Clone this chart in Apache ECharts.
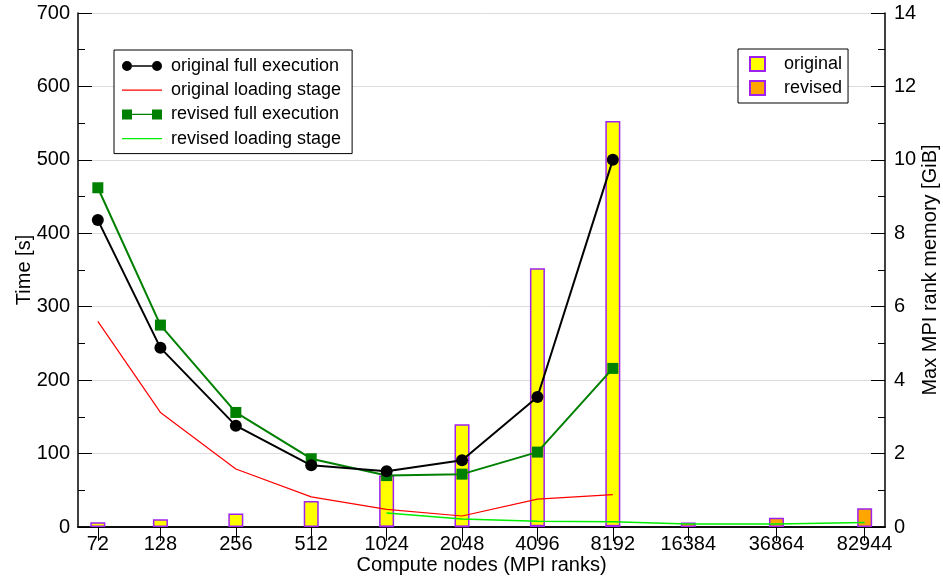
<!DOCTYPE html>
<html>
<head>
<meta charset="utf-8">
<script src="https://cdn.jsdelivr.net/npm/echarts@6/dist/echarts.min.js"></script>
<style>
  html, body { margin: 0; padding: 0; background: #fff; }
  #chart { width: 943px; height: 578px; }
</style>
</head>
<body>
<div id="chart"></div>
<script>
// compute nodes (MPI ranks), log2 spaced on the x axis
var ranks = [72, 128, 256, 512, 1024, 2048, 4096, 8192, 16384, 36864, 82944]
// time [s]
var origFull = [418, 244, 138, 84, 76, 91, 177, 500, null, null, null]
var origLoad = [280, 156, 79, 41, 24, 15, 38, 44, null, null, null]
var revFull = [462, 275, 156, 93, 70, 72, 102, 216, null, null, null]
var revLoad = [null, null, null, null, 19, 11, 8, 7, 4, 4, 6]
// max MPI rank memory [GiB]
var memOrig = [0.13, 0.21, 0.37, 0.71, 1.40, 2.80, 7.05, 11.06, null, null, null]
var memRev = [null, null, null, null, 0.03, 0.03, 0.06, 0.06, 0.12, 0.25, 0.51]

var FONT = 'Liberation Sans'
var xMin = Math.log2(60)
var xMax = Math.log2(100000)
var xTicks = ranks.map(function (r) { return Math.log2(r) })

function pairs(vals) {
  return ranks.map(function (r, i) { return [Math.log2(r), vals[i]] })
}
function rankLabel(v) {
  for (var i = 0; i < ranks.length; i++) {
    if (Math.abs(xTicks[i] - v) < 1e-6) return String(ranks[i])
  }
  return ''
}

var circleIcon = 'path://M0,5A5,5,0,1,1,10,5A5,5,0,1,1,0,5ZM10,4.3L30,4.3L30,5.7L10,5.7ZM30,5A5,5,0,1,1,40,5A5,5,0,1,1,30,5Z'
var squareIcon = 'path://M0,0L10,0L10,10L0,10ZM10,4.3L30,4.3L30,5.7L10,5.7ZM30,0L40,0L40,10L30,10Z'
var lineIcon = 'path://M0,0L40,0L40,1.2L0,1.2Z'

var chart = echarts.init(document.getElementById('chart'))
var option = {
  animation: false,
  backgroundColor: '#fff',
  textStyle: { fontFamily: FONT },
  grid: { left: 78, right: 58, top: 13, bottom: 51, outerBoundsMode: 'none', containLabel: false },
  legend: [
    {
      left: 114,
      top: 50,
      orient: 'vertical',
      backgroundColor: '#fff',
      borderColor: '#000',
      borderWidth: 1,
      borderRadius: 0,
      padding: [6, 11, 5, 8],
      itemGap: 4.2,
      itemWidth: 40,
      itemHeight: 10,
      symbolKeepAspect: true,
      textStyle: { fontSize: 18, color: '#000', fontFamily: FONT, lineHeight: 20, padding: [0, 0, 0, 4] },
      data: [
        { name: 'original full execution', icon: circleIcon },
        { name: 'original loading stage', icon: lineIcon, symbolKeepAspect: true },
        { name: 'revised full execution', icon: squareIcon },
        { name: 'revised loading stage', icon: lineIcon, symbolKeepAspect: true }
      ]
    },
    {
      left: 738,
      top: 49,
      orient: 'vertical',
      backgroundColor: '#fff',
      borderColor: '#000',
      borderWidth: 1,
      borderRadius: 0,
      padding: [5, 6, 5, 11],
      itemGap: 4,
      itemWidth: 15,
      itemHeight: 14,
      textStyle: { fontSize: 18, color: '#000', fontFamily: FONT, lineHeight: 20, padding: [0, 0, 0, 14] },
      data: [
        { name: 'original', icon: 'rect' },
        { name: 'revised', icon: 'rect' }
      ]
    }
  ],
  xAxis: [
    {
      type: 'value',
      position: 'bottom',
      min: xMin,
      max: xMax,
      name: 'Compute nodes (MPI ranks)',
      nameLocation: 'middle',
      nameGap: 28,
      nameMoveOverlap: false,
      nameTextStyle: { fontSize: 20, color: '#000', fontFamily: FONT },
      axisLine: { lineStyle: { color: '#000', width: 1.5 } },
      axisTick: { show: false },
      axisLabel: {
        customValues: xTicks,
        formatter: rankLabel,
        fontSize: 20,
        color: '#000',
        margin: 7
      },
      splitLine: { show: false }
    },
    {
      type: 'value',
      position: 'top',
      min: xMin,
      max: xMax,
      axisLine: { lineStyle: { color: '#000', width: 1.5 } },
      axisTick: { inside: true, length: 14, customValues: xTicks, lineStyle: { color: '#000', width: 1 } },
      axisLabel: { show: false },
      splitLine: { show: false }
    }
  ],
  yAxis: [
    {
      type: 'value',
      position: 'left',
      min: 0,
      max: 700,
      interval: 100,
      name: 'Time [s]',
      nameLocation: 'middle',
      nameRotate: 90,
      nameGap: 44,
      nameMoveOverlap: false,
      nameTextStyle: { fontSize: 20, color: '#000', fontFamily: FONT },
      axisLine: { show: true, lineStyle: { color: '#000', width: 1.5 } },
      axisTick: { inside: true, length: 14, lineStyle: { color: '#000' } },
      minorTick: { show: true, splitNumber: 2, length: 7, lineStyle: { color: '#000' } },
      axisLabel: { fontSize: 20, color: '#000', margin: 8 },
      splitLine: { show: true, lineStyle: { color: '#dcdcdc', width: 1 } }
    },
    {
      type: 'value',
      position: 'right',
      min: 0,
      max: 14,
      interval: 2,
      name: 'Max MPI rank memory [GiB]',
      nameLocation: 'middle',
      nameRotate: 90,
      nameGap: 35,
      nameMoveOverlap: false,
      nameTextStyle: { fontSize: 20, color: '#000', fontFamily: FONT },
      axisLine: { show: true, lineStyle: { color: '#000', width: 1.5 } },
      axisTick: { inside: true, length: 14, lineStyle: { color: '#000' } },
      minorTick: { show: true, splitNumber: 2, length: 7, lineStyle: { color: '#000' } },
      axisLabel: { fontSize: 20, color: '#000', margin: 9 },
      splitLine: { show: false }
    }
  ],
  series: [
    {
      name: 'original',
      type: 'bar',
      yAxisIndex: 1,
      barWidth: 15,
      barGap: '-100%',
      itemStyle: { color: '#ffff00', borderColor: '#a020f0', borderWidth: 1.5 },
      data: pairs(memOrig)
    },
    {
      name: 'revised',
      type: 'bar',
      yAxisIndex: 1,
      barWidth: 15,
      barGap: '-100%',
      itemStyle: { color: '#ffa500', borderColor: '#a020f0', borderWidth: 1.5 },
      data: pairs(memRev)
    },
    {
      name: 'original loading stage',
      type: 'line',
      symbol: 'none',
      color: '#ff0000',
      lineStyle: { width: 1.2 },
      data: pairs(origLoad)
    },
    {
      name: 'revised loading stage',
      type: 'line',
      symbol: 'none',
      color: '#00ee00',
      lineStyle: { width: 1.5 },
      data: pairs(revLoad)
    },
    {
      name: 'revised full execution',
      type: 'line',
      symbol: 'rect',
      symbolSize: 11,
      color: '#008000',
      lineStyle: { width: 2 },
      data: pairs(revFull)
    },
    {
      name: 'original full execution',
      type: 'line',
      symbol: 'circle',
      symbolSize: 12,
      color: '#000000',
      lineStyle: { width: 2 },
      data: pairs(origFull)
    }
  ]
}
chart.setOption(option)
</script>
</body>
</html>
